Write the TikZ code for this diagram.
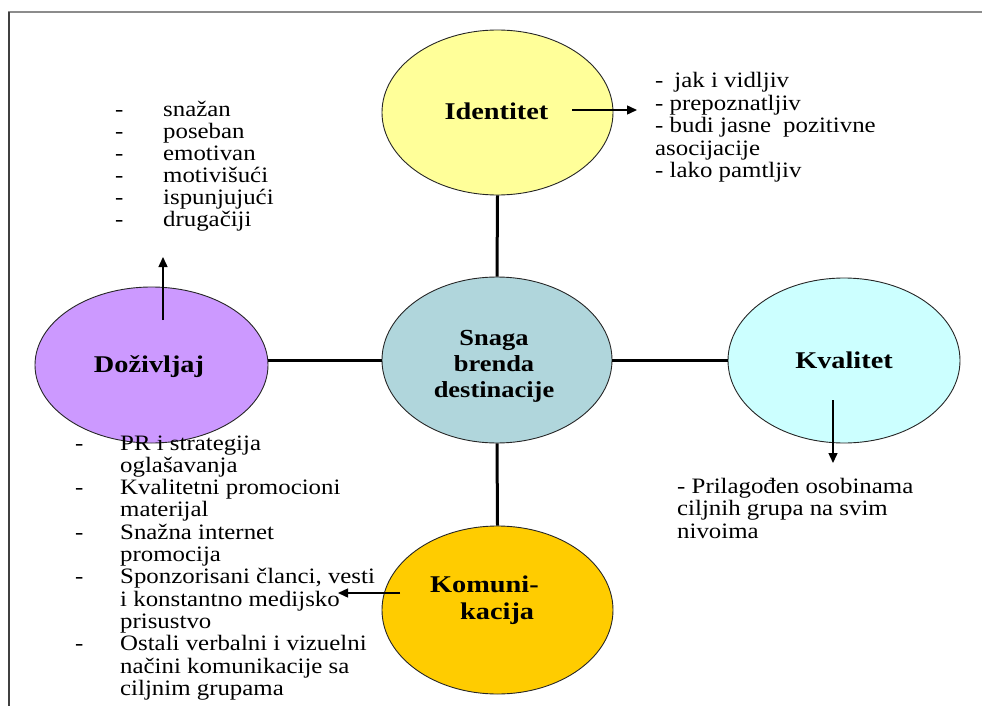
\documentclass[tikz,border=0pt]{standalone}
\usepackage{fontspec}
\setmainfont{Liberation Serif}
\newfontfamily\regf[FakeStretch=1.13]{Liberation Serif}
\newfontfamily\bldf[FakeStretch=1.18]{Liberation Serif}
\newfontfamily\cenf[FakeStretch=1.15]{Liberation Serif}
\usetikzlibrary{shapes.geometric,arrows.meta}
\definecolor{cIdent}{RGB}{255,255,153}
\definecolor{cDoz}{RGB}{204,153,255}
\definecolor{cKval}{RGB}{204,255,255}
\definecolor{cKom}{RGB}{255,204,0}
\definecolor{cCen}{RGB}{176,214,220}
\begin{document}
\begin{tikzpicture}[x=1pt,y=-1pt,
  ell/.style={ellipse, draw=black!85, line width=0.9pt, inner sep=0pt},
  conn/.style={line width=3pt, black},
  arr/.style={line width=1.4pt, black, -{Triangle[length=10pt,width=9pt]}},
  lbl/.style={inner sep=0pt, anchor=base, font=\bldf\bfseries\fontsize{24}{27}\selectfont},
  txt/.style={inner sep=0pt, anchor=base west, font=\regf\fontsize{22}{22.3}\selectfont}]
\useasboundingbox (0,0) rectangle (982,706);
% frame
\draw[line width=2pt, black!45] (8,12) -- (982,12);
\draw[line width=2pt, black!75] (9,706) -- (9,12);
% ellipses
\node[ell, fill=cIdent, minimum width=231pt, minimum height=165pt] (ident) at (497.5,112.5) {};
\node[ell, fill=cCen, minimum width=230pt, minimum height=166pt] (cen) at (497,360) {};
\node[ell, fill=cDoz, minimum width=233pt, minimum height=156pt] (doz) at (151.5,365) {};
\node[ell, fill=cKval, minimum width=232pt, minimum height=165pt] (kval) at (844,360.5) {};
\node[ell, fill=cKom, minimum width=231pt, minimum height=168pt] (kom) at (497.5,610) {};
% connectors
\draw[conn] (ident.south) -- (cen.north);
\draw[conn] (cen.south) -- (kom.north);
\draw[conn] (cen.west) -- (doz.east |- cen.west);
\draw[conn] (cen.east) -- (kval.west |- cen.east);
% labels
\node[lbl] (identt) at (496.5,120) {Identitet};
\node[lbl] (dozt) at (149,372) {Doživljaj};
\node[lbl] (kvalt) at (844,368) {Kvalitet};
\node[inner sep=0pt, anchor=base, font=\cenf\bfseries\fontsize{23}{26}\selectfont] (cent) at (494,345)
  {\begin{tabular}[t]{@{}c@{}}Snaga\\brenda\\destinacije\end{tabular}};
\node[inner sep=0pt, anchor=base west, font=\bldf\bfseries\fontsize{24}{27}\selectfont] (komt) at (430,592)
  {\begin{tabular}[t]{@{}l@{}}Komuni-\\\hspace{30pt}kacija\end{tabular}};
% arrows
\coordinate (ia1) at (572,110); \coordinate (ia2) at (637,110);
\coordinate (da1) at (163,320); \coordinate (da2) at (163,257);
\coordinate (ka1) at (833,400); \coordinate (ka2) at (833,463);
\coordinate (ma1) at (400,593); \coordinate (ma2) at (338,593);
\draw[arr] (ia1) -- (ia2);
\draw[arr] (da1) -- (da2);
\draw[arr] (ka1) -- (ka2);
\draw[arr] (ma1) -- (ma2);
% lists
\node[txt, font=\regf\fontsize{22}{21.8}\selectfont] (dlist) at (115,117)
  {\begin{tabular}[t]{@{}l@{}}
   \makebox[48pt][l]{-}snažan\\
   \makebox[48pt][l]{-}poseban\\
   \makebox[48pt][l]{-}emotivan\\
   \makebox[48pt][l]{-}motivišući\\
   \makebox[48pt][l]{-}ispunjujući\\
   \makebox[48pt][l]{-}drugačiji
   \end{tabular}};
\node[txt, font=\regf\fontsize{22}{22.5}\selectfont] (ilist) at (655,88)
  {\begin{tabular}[t]{@{}l@{}}
   -\hspace{11pt}jak i vidljiv\\
   - prepoznatljiv\\
   - budi jasne\hspace{12pt}pozitivne\\
   asocijacije\\
   - lako pamtljiv
   \end{tabular}};
\node[txt, font=\regf\fontsize{22}{22.5}\selectfont] (klist) at (677,493)
  {\begin{tabular}[t]{@{}l@{}}
   - Prilagođen osobinama\\
   ciljnih grupa na svim\\
   nivoima
   \end{tabular}};
\node[txt] (mlist) at (75,450)
  {\begin{tabular}[t]{@{}l@{}}
   \makebox[45pt][l]{-}PR i strategija\\
   \makebox[45pt][l]{}oglašavanja\\
   \makebox[45pt][l]{-}Kvalitetni promocioni\\
   \makebox[45pt][l]{}materijal\\
   \makebox[45pt][l]{-}Snažna internet\\
   \makebox[45pt][l]{}promocija\\
   \makebox[45pt][l]{-}Sponzorisani članci, vesti\\
   \makebox[45pt][l]{}i konstantno medijsko\\
   \makebox[45pt][l]{}prisustvo\\
   \makebox[45pt][l]{-}Ostali verbalni i vizuelni\\
   \makebox[45pt][l]{}načini komunikacije sa\\
   \makebox[45pt][l]{}ciljnim grupama
   \end{tabular}};
\end{tikzpicture}
\end{document}
